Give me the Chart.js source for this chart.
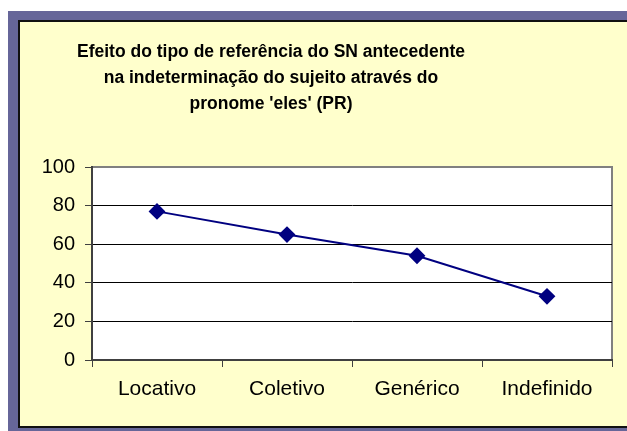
<!DOCTYPE html>
<html>
<head>
<meta charset="utf-8">
<script src="https://cdn.jsdelivr.net/npm/chart.js@4"></script>
<style>
  html, body { margin: 0; padding: 0; background: #fff; overflow: hidden; width: 627px; height: 431px; }
  #frame { position: fixed; left: 8px; top: 11px; right: -40px; bottom: -40px; background: #666699; }
  #box { position: fixed; left: 18px; top: 20px; right: -40px; height: 404px; background: #ffffcc;
         border-left: 2px solid #111; border-top: 2px solid #111; border-bottom: 2px solid #111; }
  #title { position: fixed; left: 0; top: 38px; width: 542px; text-align: center;
           font: bold 17.5px "Liberation Sans", Arial, sans-serif; line-height: 26px; color: #000; }
  #wrap { position: fixed; left: 0; top: 0; width: 627px; height: 431px; }
  canvas { display: block; }
</style>
</head>
<body>
<div id="frame"></div>
<div id="box"></div>
<div id="title">Efeito do tipo de referência do SN antecedente<br>na indeterminação do sujeito através do<br>pronome 'eles' (PR)</div>
<div id="wrap"><canvas id="myChart" width="627" height="431"></canvas></div>
<script>
const categories = ['Locativo', 'Coletivo', 'Genérico', 'Indefinido'];
const values = [77, 65, 54, 33];
const yTicks = [0, 20, 40, 60, 80, 100];

// white plot area with grey top/right edge
const plotBox = {
    id: 'plotBox',
    beforeDraw(chart) {
        const {ctx, chartArea: a} = chart;
        ctx.save();
        ctx.fillStyle = '#ffffff';
        ctx.fillRect(a.left, a.top, a.right - a.left, a.bottom - a.top);
        ctx.strokeStyle = '#808080';
        ctx.lineWidth = 2;
        ctx.beginPath();
        ctx.moveTo(a.left, a.top);
        ctx.lineTo(a.right, a.top);
        ctx.lineTo(a.right, a.bottom);
        ctx.stroke();
        ctx.restore();
    }
};

const myChartRef = document.getElementById('myChart').getContext('2d');
new Chart(myChartRef, {
    type: 'line',
    data: {
        labels: categories,
        datasets: [{
            label: 'PR',
            data: values,
            borderColor: '#000080',
            backgroundColor: '#000080',
            borderWidth: 2,
            pointStyle: 'rectRot',
            pointRadius: 7,
            pointBackgroundColor: '#000080',
            pointBorderColor: '#000080',
            tension: 0
        }]
    },
    options: {
        responsive: false,
        animation: false,
        layout: { padding: { left: 32, top: 167, right: 15, bottom: 26 } },
        plugins: {
            legend: { display: false },
            title: { display: false },
            tooltip: { enabled: false }
        },
        scales: {
            x: {
                offset: true,
                afterFit: (s) => { s.height = 45; },
                grid: { offset: true, drawOnChartArea: false, drawTicks: true, tickLength: 7, color: '#404040', lineWidth: 1 },
                border: { color: '#404040', width: 2 },
                ticks: { color: '#000', padding: 10, font: { family: 'Liberation Sans', size: 21 } }
            },
            y: {
                min: 0,
                max: 100,
                afterFit: (s) => { s.width = 60; },
                afterBuildTicks: (s) => { s.ticks = yTicks.map(v => ({value: v})); },
                grid: {
                    color: (c) => (c.tick && (c.tick.value === 100 || c.tick.value === 0)) ? 'rgba(0,0,0,0)' : '#000',
                    tickColor: '#404040',
                    tickLength: 7,
                    lineWidth: 1
                },
                border: { color: '#404040', width: 2 },
                ticks: { color: '#000', padding: 10, font: { family: 'Liberation Sans', size: 20 } }
            }
        }
    },
    plugins: [plotBox]
});
</script>
</body>
</html>
